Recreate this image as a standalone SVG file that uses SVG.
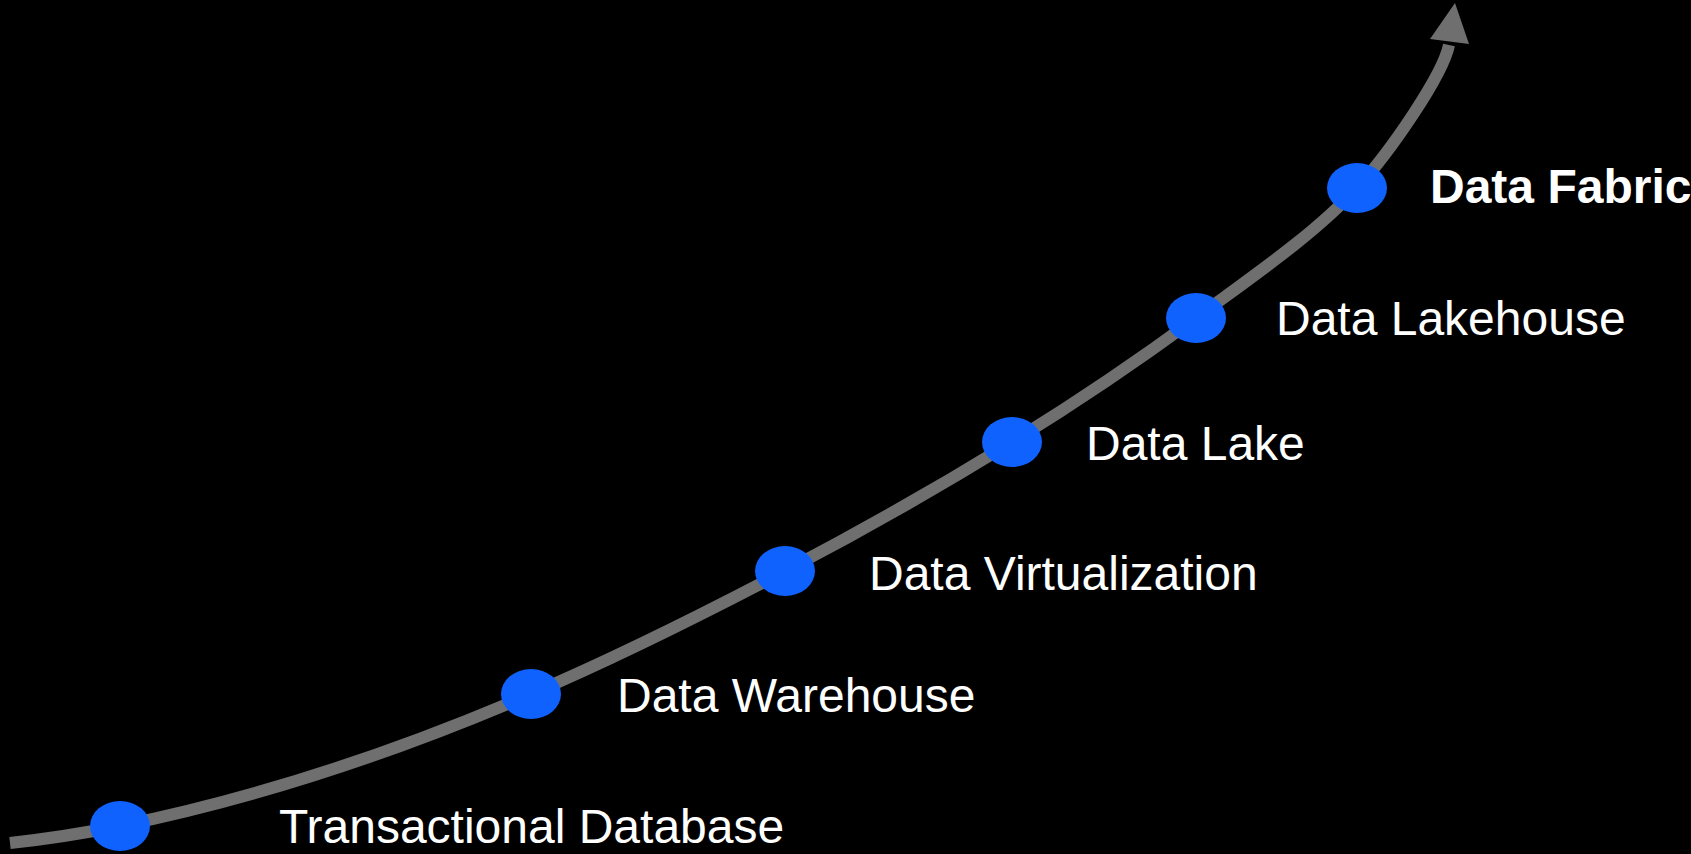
<svg xmlns="http://www.w3.org/2000/svg" width="1691" height="854" viewBox="0 0 1691 854">
  <style>
    .lbl { font-family: "Liberation Sans", Arial, sans-serif; font-size: 48px; fill: #ffffff; }
    .bold { font-weight: bold; }
    .dot { fill: #0f62fe; }
    .curve { fill: none; stroke: #6f6f6f; stroke-width: 12; stroke-linecap: butt; }
    .head { fill: #6f6f6f; }
  </style>
  <rect width="1691" height="854" fill="#000000"/>
  <g id="connectors">
    <path class="curve" d="M10,843 C47,839 83,833.4 120,826 C257,798 394,753 531,694 C616,657.5 705,613 785,571 C865.2,529 943.5,484.2 1012,442 C1080.5,399.8 1138.5,360.3 1196,318 C1253.5,275.7 1315,233.8 1357,188 C1390.6,151.4 1443,75 1449,45"/>
    <polygon class="head" points="1455,3 1430,39 1469,44"/>
  </g>
  <g id="node-transactional">
    <ellipse class="dot" cx="120" cy="826" rx="30" ry="25"/>
    <text class="lbl" x="279" y="843">Transactional Database</text>
  </g>
  <g id="node-warehouse">
    <ellipse class="dot" cx="531" cy="694" rx="30" ry="25"/>
    <text class="lbl" x="617" y="712">Data Warehouse</text>
  </g>
  <g id="node-virtualization">
    <ellipse class="dot" cx="785" cy="571" rx="30" ry="25"/>
    <text class="lbl" x="869" y="590">Data Virtualization</text>
  </g>
  <g id="node-lake">
    <ellipse class="dot" cx="1012" cy="442" rx="30" ry="25"/>
    <text class="lbl" x="1086" y="460">Data Lake</text>
  </g>
  <g id="node-lakehouse">
    <ellipse class="dot" cx="1196" cy="318" rx="30" ry="25"/>
    <text class="lbl" x="1276" y="335">Data Lakehouse</text>
  </g>
  <g id="node-fabric">
    <ellipse class="dot" cx="1357" cy="188" rx="30" ry="25"/>
    <text class="lbl bold" x="1430" y="203">Data Fabric</text>
  </g>
</svg>
